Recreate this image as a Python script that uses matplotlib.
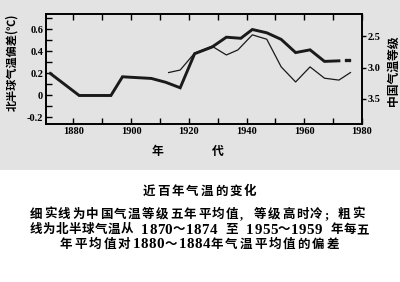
import matplotlib.pyplot as plt
from matplotlib.patches import Rectangle
from matplotlib.ticker import MultipleLocator

plt.rcParams.update(
    {
        "font.family": ["Liberation Serif", "Noto Sans CJK SC", "DejaVu Sans"],
        "axes.linewidth": 1.2,
        "axes.unicode_minus": False,
    }
)

# 北半球气温偏差 (粗实线)
nh_years = [1872, 1882, 1893, 1897, 1907, 1912, 1917, 1922, 1928, 1933,
            1938, 1942, 1947, 1952, 1957, 1962, 1967, 1972]
nh_dev = [0.20, 0.00, 0.00, 0.17, 0.155, 0.12, 0.07, 0.38, 0.44, 0.53,
          0.52, 0.60, 0.57, 0.51, 0.39, 0.415, 0.31, 0.315]
nh_dot_years = [1974.3, 1975.6]
nh_dot_dev = [0.32, 0.32]

# 中国气温等级 (细实线)
cn_years = [1913, 1917, 1922, 1928, 1933, 1937, 1942, 1947, 1952, 1957,
            1962, 1967, 1972, 1976]
cn_grade = [3.08, 3.04, 2.77, 2.66, 2.80, 2.72, 2.48, 2.55, 2.99, 3.23,
            2.99, 3.17, 3.20, 3.08]

left_ticks = [-0.2, 0, 0.2, 0.4, 0.6]
left_labels = ["-0.2", "0", "0.2", "0.4", "0.6"]
right_ticks = [2.5, 3.0, 3.5]
right_labels = ["2.5", "3.0", "3.5"]
x_ticks = [1880, 1900, 1920, 1940, 1960, 1980]

title = "近百年气温的变化"
caption = [
    "细实线为中国气温等级五年平均值,等级高时冷;粗实",
    "线为北半球气温从 1870～1874 至 1955～1959 年每五",
    "年平均值对1880～1884年气温平均值的偏差",
]

W, H = 400, 282
fig = plt.figure(figsize=(W / 100, H / 100), dpi=100)
fig.patch.set_facecolor("white")
# 上半部分灰色底
fig.patches.append(Rectangle((0, 1 - 170 / H), 1, 170 / H,
                             transform=fig.transFigure, facecolor="#e3e3e3",
                             edgecolor="none", zorder=-10))

ax = fig.add_axes([0.115, 0.560, 0.790, 0.390])
ax.set_facecolor("#e3e3e3")
ax.plot(nh_years, nh_dev, color="#1a1a1a", lw=2.1, solid_joinstyle="miter")
ax.plot(nh_dot_years, nh_dot_dev, "s", color="#1a1a1a", ms=1.8)
ax.set_xlim(1870.5, 1980)
ax.set_ylim(-0.26, 0.74)
ax.set_xticks(x_ticks)
ax.xaxis.set_minor_locator(MultipleLocator(10))
ax.set_yticks(left_ticks)
ax.set_yticklabels(left_labels)
ax.yaxis.set_minor_locator(MultipleLocator(0.1))
ax.tick_params(axis="x", which="both", direction="in", top=True, length=4,
               width=1, labelsize=7.5, pad=2)
ax.tick_params(axis="y", which="both", direction="in", length=4, width=1,
               labelsize=7.5, pad=2)
for lab in ax.get_xticklabels() + ax.get_yticklabels():
    lab.set_fontweight("bold")

ax2 = ax.twinx()
ax2.plot(cn_years, cn_grade, color="#1a1a1a", lw=0.9)
ax2.set_ylim(3.9, 2.15)
ax2.set_yticks(right_ticks)
ax2.set_yticklabels(right_labels)
ax2.tick_params(axis="y", direction="out", length=3, width=1,
                labelsize=7.5, pad=1)
for lab in ax2.get_yticklabels():
    lab.set_fontweight("bold")

fig.text(12 / W, 1 - 62 / H, "北半球气温偏差(℃)", rotation=90,
         ha="center", va="center", fontsize=8, fontweight="bold",
         family=["Noto Sans CJK SC", "DejaVu Sans"])
fig.text(393 / W, 1 - 71 / H, "中国气温等级", rotation=90,
         ha="center", va="center", fontsize=8.5, fontweight="bold",
         family=["Noto Sans CJK SC", "DejaVu Sans"])
fig.text(157 / W, 1 - 151 / H, "年", ha="center", va="center",
         fontsize=8.5, fontweight="bold", family=["Noto Sans CJK SC"])
fig.text(218 / W, 1 - 151 / H, "代", ha="center", va="center",
         fontsize=8.5, fontweight="bold", family=["Noto Sans CJK SC"])

# 字距较宽的说明文字: 逐字排, 可两端对齐
renderer = fig.canvas.get_renderer()
cap_font = ["Liberation Serif", "Noto Sans CJK SC"]


def spaced_text(x0, y, s, pitch, x_end=None, fs=9):
    items = []
    for ch in s:
        if ch == " ":
            items.append((None, 0, False))
            continue
        wide = ord(ch) > 0x2000 or ch in ",;"
        t = fig.text(0, 1 - y / H, ch, ha="left", va="center",
                     fontsize=fs if wide else fs + 1.8, fontweight="bold",
                     family=cap_font)
        adv = pitch if wide else t.get_window_extent(renderer).width + 0.4
        items.append((t, adv, wide))
    n_sp = sum(1 for t, _, _ in items if t is None)
    n_wide = sum(1 for _, _, w in items if w)
    gap, extra = 3.0, 0.0
    if x_end is not None:
        left = x_end - x0 - sum(a for _, a, _ in items)
        if n_sp:
            gap = left / n_sp
        else:
            extra = left / n_wide
    x = x0
    for t, adv, wide in items:
        if t is None:
            x += gap
            continue
        t.set_x(x / W)
        x += adv + (extra if wide else 0)


spaced_text(143, 192, title, 14.4)
spaced_text(30, 215, caption[0], 14.0)
spaced_text(30, 230, caption[1], 12.9, x_end=369)
spaced_text(60, 245, caption[2], 13.6, x_end=341)

plt.savefig("out.png", dpi=100)
